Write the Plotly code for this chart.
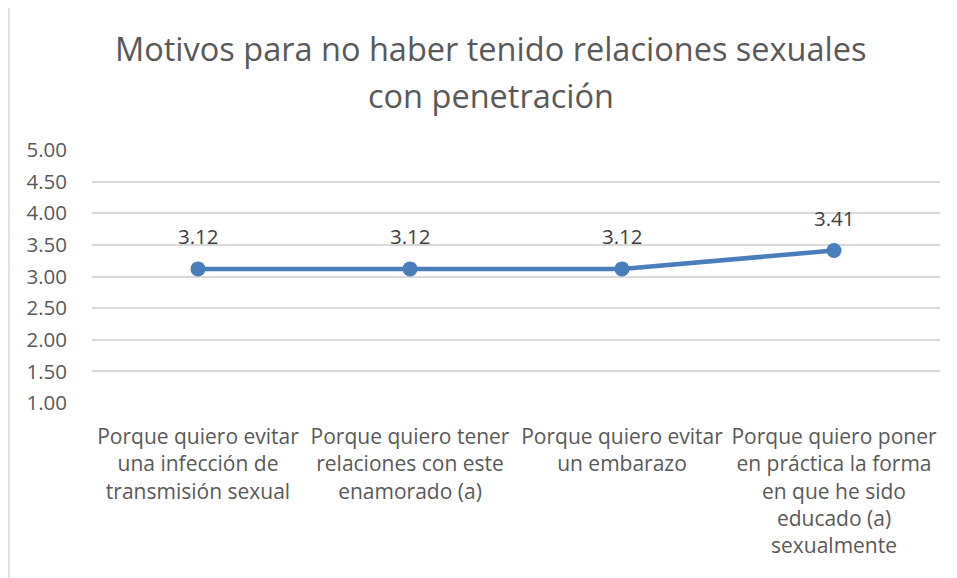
import plotly.graph_objects as go

categories = [
    "Porque quiero evitar<br>una infección de<br>transmisión sexual",
    "Porque quiero tener<br>relaciones con este<br>enamorado (a)",
    "Porque quiero evitar<br>un embarazo",
    "Porque quiero poner<br>en práctica la forma<br>en que he sido<br>educado (a)<br>sexualmente",
]
values = [3.12, 3.12, 3.12, 3.41]
y_ticks = [1.0, 1.5, 2.0, 2.5, 3.0, 3.5, 4.0, 4.5, 5.0]
title_lines = ["Motivos para no haber tenido relaciones sexuales", "con penetración"]

FONT = "Open Sans"
x_idx = list(range(len(categories)))

fig = go.Figure()
fig.add_trace(go.Scatter(
    x=x_idx, y=values, mode="lines+markers",
    line=dict(color="#4A7EBB", width=4.5),
    marker=dict(size=15, color="#4A7EBB"),
    hoverinfo="skip", showlegend=False,
))

for xi, v in zip(x_idx, values):
    fig.add_annotation(x=xi, y=v, text=f"{v:.2f}", showarrow=False,
                       yshift=33, font=dict(family=FONT, size=20.5, color="#404040"))

for yy, line in zip([1.40, 1.217], title_lines):
    fig.add_annotation(xref="paper", yref="paper", x=0.47, y=yy, text=line,
                       showarrow=False, xanchor="center", yanchor="middle",
                       font=dict(family=FONT, size=32.5, color="#595959"))

fig.add_shape(type="rect", xref="paper", yref="paper", x0=-0.0979, x1=1.2, y0=-2, y1=1.573,
              line=dict(color="#D9D9D9", width=1.5), layer="below")

fig.update_layout(
    width=957, height=578,
    margin=dict(l=84, r=25, t=142, b=183, autoexpand=False),
    paper_bgcolor="white", plot_bgcolor="white",
    xaxis=dict(
        tickmode="array", tickvals=x_idx, ticktext=categories,
        range=[-0.5, 3.5], showgrid=False, zeroline=False, showline=False,
        ticks="", tickfont=dict(family=FONT, size=21, color="#595959"),
        ticklabelstandoff=19, fixedrange=True, automargin=False,
    ),
    yaxis=dict(
        range=[1.0, 5.0], tickmode="array", tickvals=y_ticks,
        ticktext=[f"{t:.2f}" for t in y_ticks],
        showgrid=True, gridcolor="#D9D9D9", gridwidth=1.5,
        zeroline=False, showline=False, ticks="",
        tickfont=dict(family=FONT, size=20.5, color="#595959"),
        ticklabelstandoff=24, fixedrange=True, automargin=False,
    ),
    font=dict(family=FONT),
)

fig.write_html("out.html")
